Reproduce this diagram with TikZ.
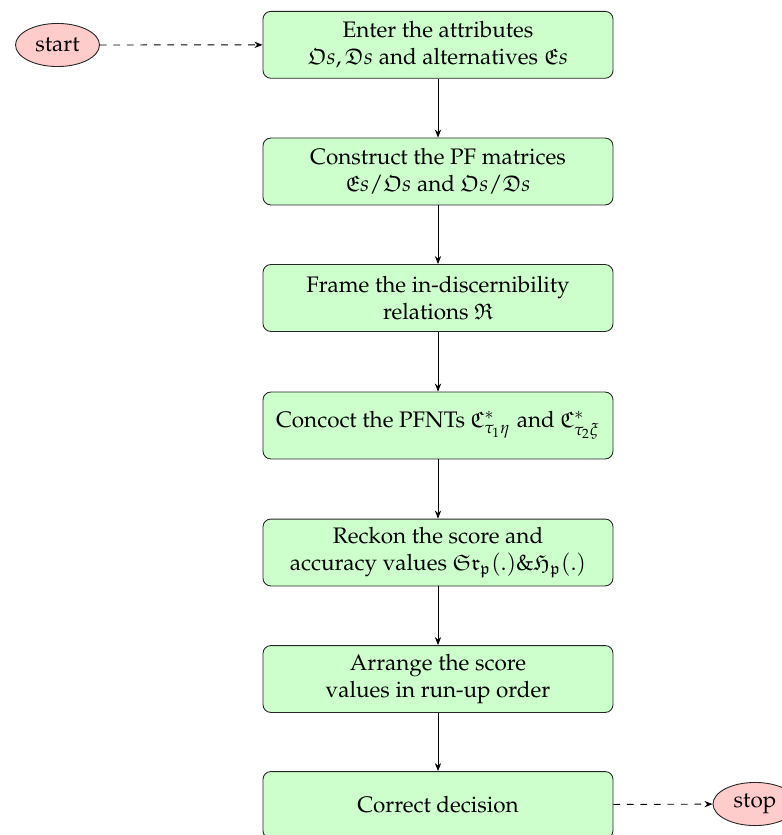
\documentclass[tikz,border=0pt]{standalone}
\usepackage[T1]{fontenc}
\usepackage{mathpazo}
\usepackage{amssymb}
\usetikzlibrary{shapes.geometric,arrows.meta}
\begin{document}
\begin{tikzpicture}[x=0.4454pt,y=-0.4454pt,
  procbox/.style={draw=black!85, fill=green!20, rounded corners=3.5pt, minimum width=155.9pt, minimum height=29.8pt, align=center, inner sep=2pt},
  termnode/.style={draw=black!85, fill=red!20, ellipse, minimum width=37.4pt, minimum height=19.2pt, inner sep=0pt},
  flow/.style={-{Stealth[length=3.6pt,width=2.8pt]}, line width=0.4pt},
  dflow/.style={flow, dashed}]
\useasboundingbox (0,0) rectangle (782,835);
\node[termnode] (start) at (57.5,45) {start};
\node[procbox] (b1) at (438,44.8) {Enter the attributes\\ $\mathfrak{O}s,\mathfrak{D}s$ and alternatives $\mathfrak{E}s$};
\node[procbox] (b2) at (438,171.5) {Construct the PF matrices\\ $\mathfrak{E}s/\mathfrak{O}s$ and $\mathfrak{O}s/\mathfrak{D}s$};
\node[procbox] (b3) at (438,298) {Frame the in-discernibility\\ relations $\mathfrak{R}$};
\node[procbox] (b4) at (438,425.5) {Concoct the PFNTs $\mathfrak{C}^*_{\tau_1\eta}$ and $\mathfrak{C}^*_{\tau_2\xi}$};
\node[procbox] (b5) at (438,552.5) {Reckon the score and\\ accuracy values $\mathfrak{Sr}_{\mathfrak{p}}(.)\&\mathfrak{H}_{\mathfrak{p}}(.)$};
\node[procbox] (b6) at (438,679) {Arrange the score\\ values in run-up order};
\node[procbox] (b7) at (438,805) {Correct decision};
\node[termnode] (stop) at (755,804) {stop};
\draw[dflow] (start) -- (b1);
\draw[flow] (b1) -- (b2);
\draw[flow] (b2) -- (b3);
\draw[flow] (b3) -- (b4);
\draw[flow] (b4) -- (b5);
\draw[flow] (b5) -- (b6);
\draw[flow] (b6) -- (b7);
\draw[dflow] (b7) -- (stop);
\end{tikzpicture}
\end{document}
